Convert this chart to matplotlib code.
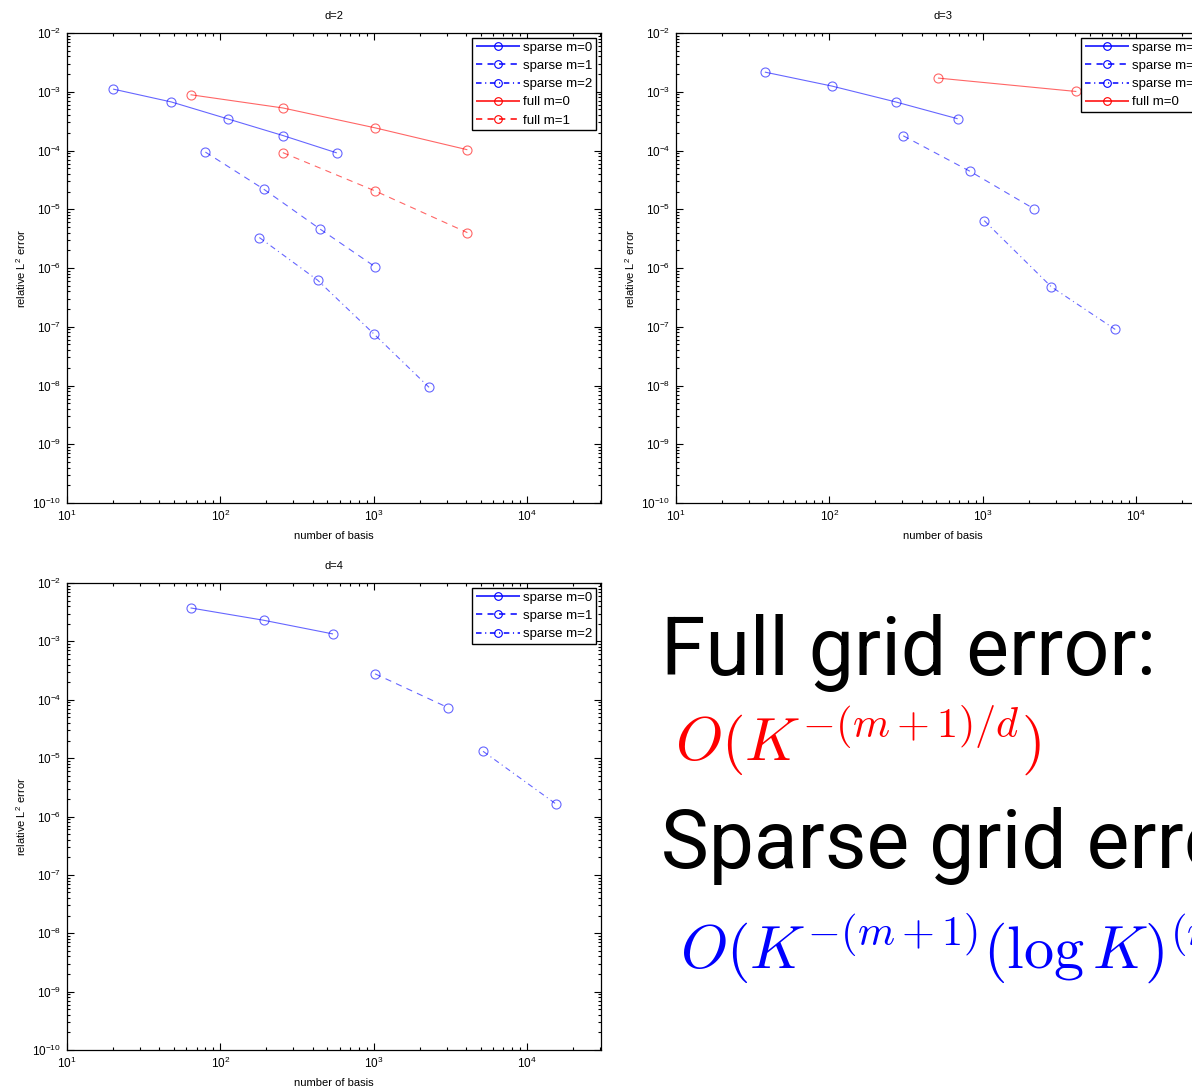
import matplotlib
matplotlib.use('Agg')
import matplotlib.pyplot as plt
from matplotlib.ticker import LogLocator, NullFormatter

plt.rcParams['font.family'] = ['Liberation Sans', 'DejaVu Sans']
plt.rcParams['mathtext.fontset'] = 'cm'
plt.rcParams['lines.scale_dashes'] = False

# ---- data: d=2 ----
d2_sparse_m0_x = [20, 48, 112, 256, 576]
d2_sparse_m0_y = [1.11e-3, 6.7e-4, 3.45e-4, 1.8e-4, 9.1e-5]
d2_sparse_m1_x = [80, 192, 448, 1024]
d2_sparse_m1_y = [9.4e-5, 2.2e-5, 4.6e-6, 1.05e-6]
d2_sparse_m2_x = [180, 432, 1008, 2304]
d2_sparse_m2_y = [3.3e-6, 6.2e-7, 7.5e-8, 9.3e-9]
d2_full_m0_x = [64, 256, 1024, 4096]
d2_full_m0_y = [8.9e-4, 5.3e-4, 2.43e-4, 1.03e-4]
d2_full_m1_x = [256, 1024, 4096]
d2_full_m1_y = [9.2e-5, 2.05e-5, 4.0e-6]
# ---- data: d=3 ----
d3_sparse_m0_x = [38, 104, 272, 688]
d3_sparse_m0_y = [2.16e-3, 1.25e-3, 6.7e-4, 3.47e-4]
d3_sparse_m1_x = [304, 832, 2176]
d3_sparse_m1_y = [1.78e-4, 4.4e-5, 1.01e-5]
d3_sparse_m2_x = [1026, 2808, 7344]
d3_sparse_m2_y = [6.4e-6, 4.8e-7, 9.0e-8]
d3_full_m0_x = [512, 4096]
d3_full_m0_y = [1.71e-3, 1.01e-3]
# ---- data: d=4 ----
d4_sparse_m0_x = [64, 192, 544]
d4_sparse_m0_y = [3.74e-3, 2.3e-3, 1.34e-3]
d4_sparse_m1_x = [1024, 3072]
d4_sparse_m1_y = [2.78e-4, 7.3e-5]
d4_sparse_m2_x = [5184, 15552]
d4_sparse_m2_y = [1.31e-5, 1.63e-6]

x_ticks = [1e1, 1e2, 1e3, 1e4]
y_ticks = [10.0 ** k for k in range(-10, -1)]

solid = (0, ())
dashed = (0, (4.5, 3.8))
dashdot = (0, (4.0, 2.6, 0.8, 2.6))
styles = {
    'sparse m=0': ('blue', solid),
    'sparse m=1': ('blue', dashed),
    'sparse m=2': ('blue', dashdot),
    'full m=0': ('red', solid),
    'full m=1': ('red', dashed),
}

fig = plt.figure(figsize=(11.92, 10.91), dpi=100)
W, H = 1192.0, 1091.0


def make_axes(left, top, right, bottom):
    return fig.add_axes([left / W, 1 - bottom / H, (right - left) / W, (bottom - top) / H])


def setup(ax, title):
    ax.set_xscale('log')
    ax.set_yscale('log')
    ax.set_xlim(10, 3.05e4)
    ax.set_ylim(1e-10, 1e-2)
    ax.set_xticks(x_ticks)
    ax.set_yticks(y_ticks)
    ax.xaxis.set_minor_locator(LogLocator(base=10, subs=range(2, 10), numticks=100))
    ax.yaxis.set_minor_locator(LogLocator(base=10, subs=range(2, 10), numticks=100))
    ax.xaxis.set_minor_formatter(NullFormatter())
    ax.yaxis.set_minor_formatter(NullFormatter())
    ax.tick_params(which='both', direction='in', top=True, right=True,
                   labelsize=8.5, width=0.8, pad=4)
    ax.tick_params(which='major', length=5)
    ax.tick_params(which='minor', length=2.5)
    for s in ax.spines.values():
        s.set_linewidth(0.9)
    ax.set_title(title, fontsize=8, pad=10)
    ax.set_xlabel('number of basis', fontsize=8, labelpad=5)
    ax.set_ylabel(r'relative L$^{\mathdefault{2}}$ error', fontsize=8, labelpad=3)


def plot_series(ax, series):
    for label, xs, ys in series:
        c, ls = styles[label]
        ax.plot(xs, ys, color=c, linestyle=ls, linewidth=0.8, marker='o', alpha=0.6,
                markersize=6.5, markerfacecolor='none', markeredgewidth=0.8,
                label=label)
    leg = ax.legend(loc='upper right', fontsize=9.5, fancybox=False, framealpha=1,
                    edgecolor='black', handlelength=3.3, borderaxespad=0.35,
                    labelspacing=0.45, handletextpad=0.25, borderpad=0.3)
    leg.get_frame().set_linewidth(1.0)
    for h in leg.get_lines():
        h.set_linewidth(1.1)
        h.set_alpha(1.0)
        h.set_markersize(5.5)


ax1 = make_axes(67, 33, 601, 503)
setup(ax1, 'd=2')
plot_series(ax1, [
    ('sparse m=0', d2_sparse_m0_x, d2_sparse_m0_y),
    ('sparse m=1', d2_sparse_m1_x, d2_sparse_m1_y),
    ('sparse m=2', d2_sparse_m2_x, d2_sparse_m2_y),
    ('full m=0', d2_full_m0_x, d2_full_m0_y),
    ('full m=1', d2_full_m1_x, d2_full_m1_y),
])

ax2 = make_axes(676, 33, 1210, 503)
setup(ax2, 'd=3')
plot_series(ax2, [
    ('sparse m=0', d3_sparse_m0_x, d3_sparse_m0_y),
    ('sparse m=1', d3_sparse_m1_x, d3_sparse_m1_y),
    ('sparse m=2', d3_sparse_m2_x, d3_sparse_m2_y),
    ('full m=0', d3_full_m0_x, d3_full_m0_y),
])

ax3 = make_axes(67, 583, 601, 1050)
setup(ax3, 'd=4')
plot_series(ax3, [
    ('sparse m=0', d4_sparse_m0_x, d4_sparse_m0_y),
    ('sparse m=1', d4_sparse_m1_x, d4_sparse_m1_y),
    ('sparse m=2', d4_sparse_m2_x, d4_sparse_m2_y),
])

big_font = ['Roboto', 'DejaVu Sans']
fig.text(661 / W, 1 - 675 / H, 'Full grid error:', fontsize=58,
         family=big_font, weight='normal', va='baseline', ha='left')
fig.text(675 / W, 1 - 760 / H, r'$O(K^{-(m+1)/d})$', color='red', fontsize=43.5,
         va='baseline', ha='left')
fig.text(661 / W, 1 - 868 / H, 'Sparse grid error:', fontsize=58,
         family=big_font, weight='normal', va='baseline', ha='left')
fig.text(680 / W, 1 - 968 / H, r'$O(K^{-(m+1)}(\log K)^{(m+2)(d-1)})$', color='blue',
         fontsize=43.5, va='baseline', ha='left')

fig.savefig('out.png', dpi=100)
